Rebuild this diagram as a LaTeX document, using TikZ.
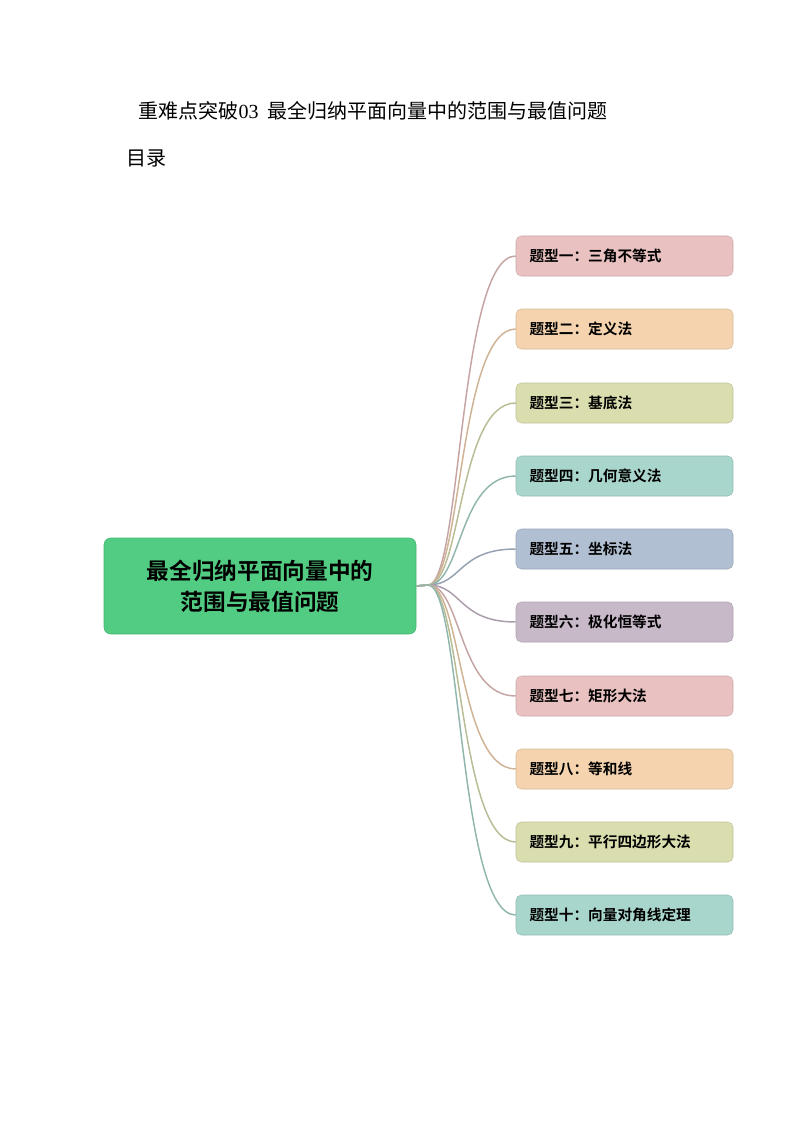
\documentclass[tikz,border=0pt]{standalone}
\usepackage{fontspec}
\setmainfont{Liberation Serif}
\newfontfamily\cjk{Noto Sans CJK SC}
\newfontfamily\cjkb{Noto Sans CJK SC Bold}
\begin{document}
\begin{tikzpicture}[x=0.75pt,y=-0.75pt,
 leaf/.style={rounded corners=4pt,minimum width=217*0.75pt,minimum height=40*0.75pt,text width=190*0.75pt,align=left,font=\cjkb\fontsize{11}{13}\selectfont,inner sep=0pt},
 root/.style={rounded corners=5pt,fill=rootc,draw=rootd,minimum width=312*0.75pt,minimum height=96*0.75pt,align=center,font=\cjkb\fontsize{17}{23}\selectfont}]
\definecolor{rootc}{HTML}{52CC82}\definecolor{rootd}{HTML}{45B872}
\definecolor{c1}{HTML}{E8C1C0}\definecolor{c2}{HTML}{F4D3AE}\definecolor{c3}{HTML}{DADDAE}
\definecolor{c4}{HTML}{A9D6CC}\definecolor{c5}{HTML}{B1BFD2}\definecolor{c6}{HTML}{C8B9C9}
\useasboundingbox[fill=white] (0,0) rectangle (794,1123);
\node[anchor=west,font=\cjk\fontsize{15}{18}\selectfont] (title) at (134,111) {重难点突破\textrm{03}\ \ 最全归纳平面向量中的范围与最值问题};
\node[anchor=west,font=\cjk\fontsize{15}{18}\selectfont] (toc) at (122,158) {目录};
\node[root] (r) at (260,586) {最全归纳平面向量中的\\范围与最值问题};
\coordinate (s) at (428,585);
\foreach \i/\y/\c/\t in {1/256/c1/题型一：三角不等式,2/329/c2/题型二：定义法,3/403/c3/题型三：基底法,4/476/c4/题型四：几何意义法,5/549/c5/题型五：坐标法,6/622/c6/题型六：极化恒等式,7/696/c1/题型七：矩形大法,8/769/c2/题型八：等和线,9/842/c3/题型九：平行四边形大法,10/915/c4/题型十：向量对角线定理}{
 \node[leaf,fill=\c,draw=\c!80!black!60!\c] (n\i) at (624.5,\y) {\t};
 \draw[\c!85!black,line width=1.1pt] (r.east) -- (s) .. controls (462,585) and (458,\y) .. (n\i.west);
}
\end{tikzpicture}
\end{document}
